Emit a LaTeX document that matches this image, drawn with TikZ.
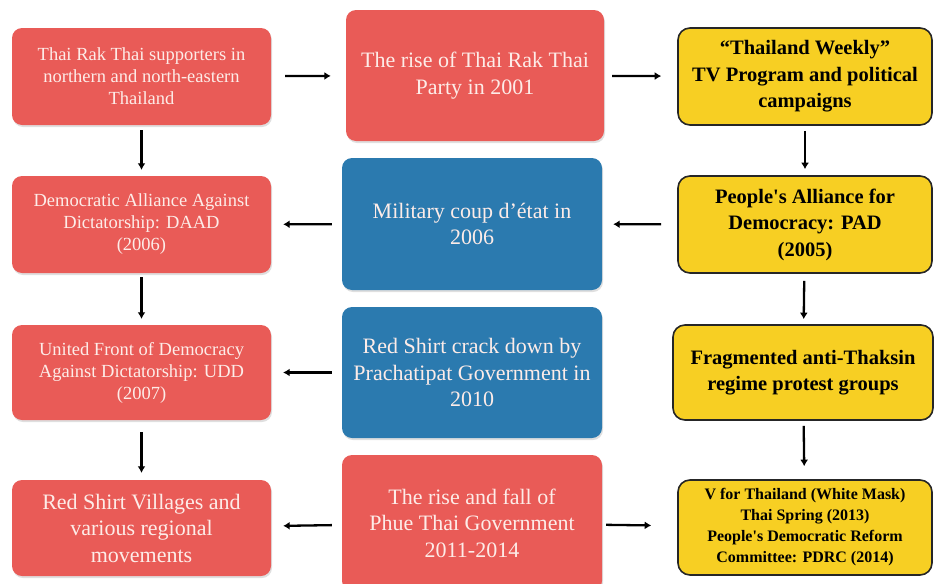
\documentclass[tikz,border=0pt]{standalone}
\usepackage{fontspec}
\setmainfont{Liberation Serif}
\usetikzlibrary{arrows.meta,shadows}
\definecolor{redfill}{RGB}{233,91,87}
\definecolor{bluefill}{RGB}{43,122,175}
\definecolor{yellowfill}{RGB}{247,207,35}
\definecolor{paletext}{RGB}{253,236,232}
\tikzset{
  box/.style={rounded corners=10pt, align=center, inner sep=2pt},
  redbox/.style={box, fill=redfill, text=paletext, minimum width=259pt,
    drop shadow={opacity=0.25, shadow xshift=1pt, shadow yshift=-2pt}},
  bluebox/.style={box, fill=bluefill, text=paletext, minimum width=260pt,
    drop shadow={opacity=0.25, shadow xshift=1pt, shadow yshift=-2pt}},
  yellowbox/.style={box, rounded corners=12pt, fill=yellowfill, draw=black!85,
    line width=1.6pt, text=black, minimum width=254pt,
    font=\bfseries\fontsize{20.5}{26.5}\selectfont},
  smallred/.style={font=\fontsize{18.5}{22}\selectfont},
  bigtext/.style={font=\fontsize{22}{26.5}\selectfont},
  gap/.style 2 args={shorten <=#1pt, shorten >=#2pt},
}
\begin{document}
\begin{tikzpicture}[x=1pt,y=-1pt]
      \useasboundingbox (0,0) rectangle (935,584);
      \draw
        (141.5,76.5) node[redbox,smallred,minimum height=97pt] (0){Thai Rak Thai supporters in\\northern and north-eastern\\Thailand}
        (475,75.5) node[redbox,bigtext,minimum width=258pt,minimum height=131pt] (1){The rise of Thai Rak Thai\\Party in 2001}
        (805,76.5) node[yellowbox,minimum height=97pt] (2){“Thailand Weekly”\\TV Program and political\\campaigns}
        (141.5,224.5) node[redbox,smallred,minimum height=97pt] (3){Democratic Alliance Against\\Dictatorship: DAAD\\(2006)}
        (472,224) node[bluebox,bigtext,minimum height=132pt] (4){Military coup d’état in\\2006}
        (805,224.5) node[yellowbox,minimum height=97pt] (5){People\textquotesingle s Alliance for\\Democracy: PAD\\(2005)}
        (141.5,372.5) node[redbox,smallred,minimum height=95pt] (6){United Front of Democracy\\Against Dictatorship: UDD\\(2007)}
        (472,372.5) node[bluebox,bigtext,minimum height=131pt] (7){Red Shirt crack down by\\Prachatipat Government in\\2010}
        (803,372.5) node[yellowbox,minimum width=260pt,minimum height=95pt] (8){Fragmented anti-Thaksin\\regime protest groups}
        (141.5,528) node[redbox,bigtext,minimum height=96pt] (9){Red Shirt Villages and\\various regional\\movements}
        (472,523) node[redbox,bigtext,minimum width=260pt,minimum height=136pt] (10){The rise and fall of\\Phue Thai Government\\2011-2014}
        (805,527.5) node[yellowbox,minimum height=95pt,font=\bfseries\fontsize{16}{21}\selectfont] (11){V for Thailand (White Mask)\\Thai Spring (2013)\\People\textquotesingle s Democratic Reform\\Committee: PDRC (2014)};
      \begin{scope}[line width=2.3pt,-{Latex[length=6.5pt,width=8pt]}]
        \draw[gap={14}{15}] (0) to (1);
        \draw[gap={8}{16}] (1) to (2);
        \draw[gap={5}{6}] (2) to (5);
        \draw[gap={16}{11}] (5) to (4);
        \draw[gap={10}{12}] (4) to (3);
        \draw[gap={5}{6}] (0) to (3);
        \draw[gap={4}{6}] (3) to (6);
        \draw[gap={7}{5}] (5) to (8);
        \draw[gap={10}{12}] (7) to (6);
        \draw[gap={12}{7}] (6) to (9);
        \draw[gap={5}{13}] (8) to (11);
        \draw[gap={10}{12}] (10) to (9);
        \draw[gap={4}{26}] (10) to (11);
      \end{scope}
    \end{tikzpicture}
\end{document}
